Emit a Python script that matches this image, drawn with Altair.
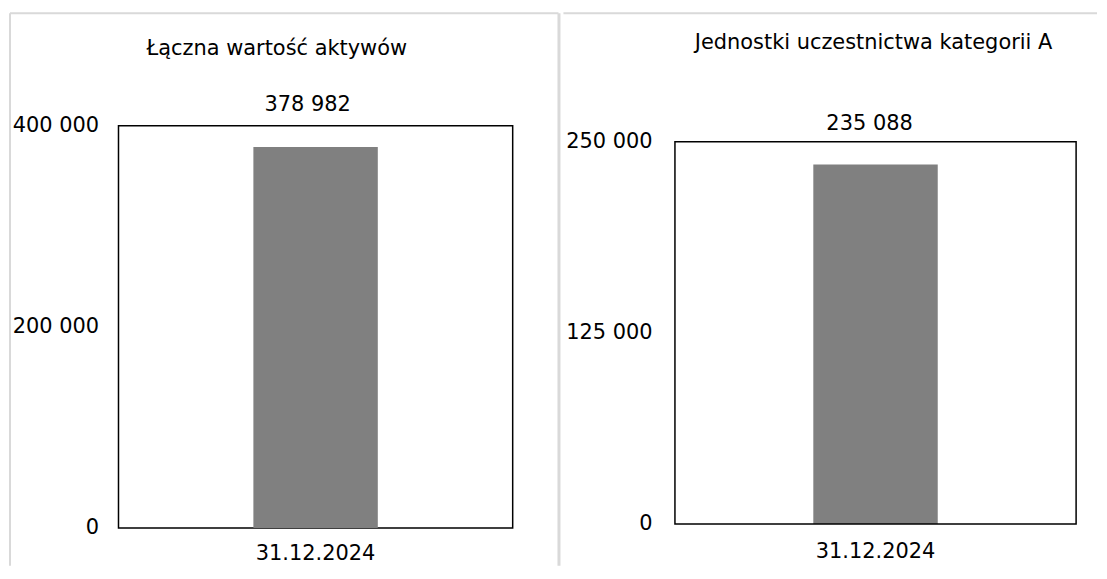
import altair as alt
import pandas as pd

categories = ["31.12.2024"]
assets_values = [378982]
units_values = [235088]
titles = ["Łączna wartość aktywów", "Jednostki uczestnictwa kategorii A"]
assets_ticks = [0, 200000, 400000]
units_ticks = [0, 125000, 250000]

FONT = "DejaVu Sans"
FS = 21
GRAY = "#d9d9d9"
BAR = "#808080"
FMT = "replace(format(datum.value, ','), ',', ' ')"


def panel(values, ticks, title, w, h, y_range, frame, title_dx, title_offset,
          label_dx, label_dy, ylab_pad, xlab_pad, borders):
    df = pd.DataFrame({"date": categories, "value": values})
    base = alt.Chart(df).transform_calculate(label=FMT)
    x = alt.X("date:N", title=None,
              axis=alt.Axis(labelAngle=0, ticks=False, domain=False,
                            labelPadding=xlab_pad, labelBaseline="middle",
                            labelFont=FONT, labelFontSize=FS, labelColor="#000"))
    scale_kw = dict(domain=[ticks[0], ticks[-1]], nice=False, zero=True)
    if y_range is not None:
        scale_kw["range"] = y_range
    y = alt.Y("value:Q", title=None,
              scale=alt.Scale(**scale_kw),
              axis=alt.Axis(values=ticks, grid=False, ticks=False, domain=False,
                            labelPadding=ylab_pad, labelExpr=FMT,
                            labelFont=FONT, labelFontSize=FS, labelColor="#000"))
    bars = base.mark_bar(color=BAR, size=125).encode(x=x, y=y)
    text = base.mark_text(dx=label_dx, dy=label_dy, font=FONT, fontSize=FS,
                          baseline="middle", color="#000").encode(
        x=x, y=y, text="label:N")
    layers = [bars, text]
    for b in borders:
        enc = {k: alt.value(v) for k, v in b["enc"].items()}
        layers.append(alt.Chart(df).mark_rule(color=GRAY, strokeWidth=b["sw"]).encode(**enc))
    props = dict(
        width=w, height=h,
        title=alt.TitleParams(text=title, anchor="middle", frame="group", dx=title_dx,
                              offset=title_offset, baseline="middle", font=FONT,
                              fontSize=FS, fontWeight="normal", color="#000"),
    )
    if frame is not None:
        enc = {k: alt.value(v) for k, v in frame.items()}
        layers.append(alt.Chart(df).mark_rect(filled=False, stroke="black",
                                              strokeWidth=1.5).encode(**enc))
        props["view"] = alt.ViewBackground(stroke="transparent")
    return alt.layer(*layers).properties(**props)


p1 = panel(assets_values, assets_ticks, titles[0], 396, 404, None, None,
           title_dx=-39, title_offset=-58, label_dx=-8, label_dy=-42,
           ylab_pad=20, xlab_pad=26,
           borders=[
               {"sw": 2, "enc": {"x": -109, "x2": 442, "y": -113}},
               {"sw": 2, "enc": {"x": -109, "y": -113, "y2": 442}},
               {"sw": 3, "enc": {"x": 442.5, "y": -113, "y2": 442}},
           ])

p2 = panel(units_values, units_ticks, titles[1], 403, 400, [400, 16],
           {"x": 0, "x2": 403, "y": 16, "y2": 400},
           title_dx=-2, title_offset=-52, label_dx=-6, label_dy=-41,
           ylab_pad=23, xlab_pad=28,
           borders=[
               {"sw": 2, "enc": {"x": -112, "x2": 424, "y": -113}},
           ])

chart = alt.hconcat(p1, p2, spacing=0).properties(
    padding={"top": 1, "left": 0, "right": 0, "bottom": 0},
    background="white",
).configure_view(stroke="black", strokeWidth=1.5)

chart.save("out.html", embed_options={"renderer": "svg", "actions": False})
